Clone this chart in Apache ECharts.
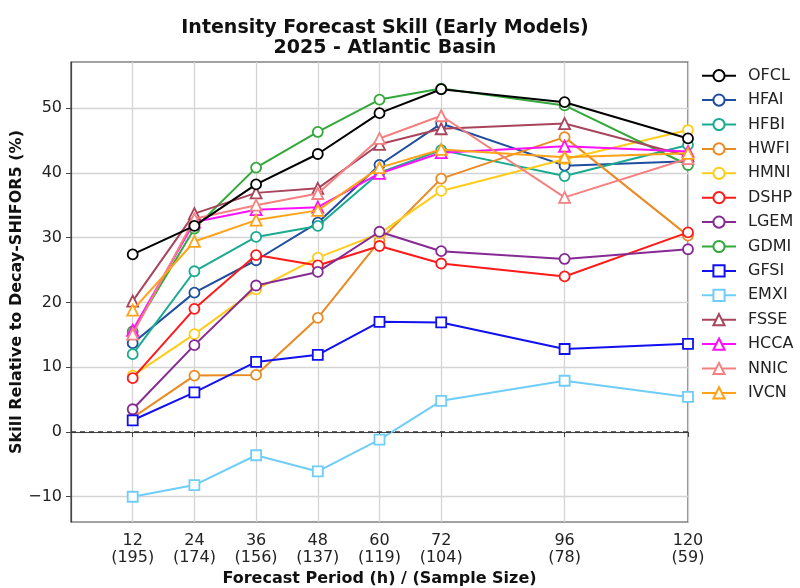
<!DOCTYPE html>
<html>
<head>
<meta charset="utf-8">
<script src="https://cdn.jsdelivr.net/npm/echarts@6/dist/echarts.min.js"></script>
<style>
  html, body { margin: 0; padding: 0; background: #fff; }
  #chart { width: 800px; height: 588px; }
</style>
</head>
<body>
<div id="chart"></div>
<script>
const hours = [12, 24, 36, 48, 60, 72, 96, 120]
const samples = [195, 174, 156, 137, 119, 104, 78, 59]
const yTicks = [-10, 0, 10, 20, 30, 40, 50]

const models = ['OFCL', 'HFAI', 'HFBI', 'HWFI', 'HMNI', 'DSHP', 'LGEM', 'GDMI', 'GFSI', 'EMXI', 'FSSE', 'HCCA', 'NNIC', 'IVCN']

const OFCL = [27.4, 31.8, 38.2, 42.9, 49.2, 52.9, 50.9, 45.3]
const HFAI = [13.7, 21.5, 26.5, 32.3, 41.2, 47.6, 41.1, 41.8]
const HFBI = [12.0, 24.8, 30.1, 31.8, 40.0, 43.5, 39.5, 44.3]
const HWFI = [2.2, 8.7, 8.8, 17.6, 29.5, 39.1, 45.5, 30.3]
const HMNI = [8.7, 15.1, 22.0, 26.9, 30.6, 37.2, 42.1, 46.6]
const DSHP = [8.3, 19.0, 27.3, 25.7, 28.7, 26.0, 24.0, 30.8]
const LGEM = [3.5, 13.4, 22.6, 24.7, 30.9, 27.9, 26.7, 28.2]
const GDMI = [15.5, 31.4, 40.8, 46.3, 51.3, 53.0, 50.4, 41.2]
const GFSI = [1.8, 6.1, 10.8, 11.9, 17.0, 16.9, 12.8, 13.6]
const EMXI = [-10.0, -8.2, -3.6, -6.1, -1.2, 4.8, 7.9, 5.4]
const FSSE = [20.2, 33.7, 36.9, 37.6, 44.4, 46.8, 47.6, 42.6]
const HCCA = [15.7, 32.4, 34.3, 34.7, 39.9, 43.1, 44.1, 43.3]
const NNIC = [15.1, 32.9, 35.0, 36.8, 45.3, 48.8, 36.2, 42.2]
const IVCN = [18.8, 29.4, 32.7, 34.2, 40.8, 43.6, 42.4, 43.0]

const values = { OFCL, HFAI, HFBI, HWFI, HMNI, DSHP, LGEM, GDMI, GFSI, EMXI, FSSE, HCCA, NNIC, IVCN }

// line colour and marker per model
const styles = {
    OFCL: ['#000000', 'circle'],
    HFAI: ['#1f4e9e', 'circle'],
    HFBI: ['#1aab8f', 'circle'],
    HWFI: ['#ea8a22', 'circle'],
    HMNI: ['#ffcc1a', 'circle'],
    DSHP: ['#ff1a1a', 'circle'],
    LGEM: ['#862a94', 'circle'],
    GDMI: ['#33a83a', 'circle'],
    GFSI: ['#1010f0', 'rect'],
    EMXI: ['#6fcdf8', 'rect'],
    FSSE: ['#a8445c', 'triangle'],
    HCCA: ['#ff10ff', 'triangle'],
    NNIC: ['#f58080', 'triangle'],
    IVCN: ['#ffa216', 'triangle'],
}

const font = 'DejaVu Sans'
const chart = echarts.init(document.getElementById('chart'), null, { renderer: 'canvas' })

const series = models.map((name, i) => {
    const [color, symbol] = styles[name]
    const s = {
        name: name,
        type: 'line',
        data: hours.map((h, k) => [h, values[name][k]]),
        symbol: symbol,
        symbolSize: symbol === 'triangle' ? 11 : 10,
        z: name === 'OFCL' ? 5 : 2 + i * 0.01,
        lineStyle: { color: color, width: 2 },
        itemStyle: { color: '#fff', borderColor: color, borderWidth: 1.8 },
        emphasis: { disabled: true },
    }
    if (i === 0) {
        // zero reference line
        s.markLine = {
            silent: true,
            symbol: 'none',
            label: { show: false },
            lineStyle: { color: '#333', type: [5, 4], width: 1.5 },
            data: [{ yAxis: 0 }],
        }
    }
    return s
})

chart.setOption({
    animation: false,
    title: {
        text: 'Intensity Forecast Skill (Early Models)\n2025 - Atlantic Basin',
        left: 380,
        top: 13,
        textAlign: 'center',
        textStyle: { fontFamily: font, fontSize: 19, fontWeight: 'bold', color: '#111', lineHeight: 20 },
    },
    legend: {
        orient: 'vertical',
        left: 701,
        top: 67.7,
        padding: 0,
        itemWidth: 34,
        itemHeight: 14,
        itemGap: 8.4,
        data: models,
        textStyle: { fontFamily: font, fontSize: 16, color: '#222', lineHeight: 14, padding: [0, 0, 0, 7] },
    },
    grid: {
        left: 71, right: 112, top: 62, bottom: 66,
        outerBoundsMode: 'none',
        containLabel: false,
        show: true, borderColor: '#444', borderWidth: 1.2,
    },
    xAxis: {
        type: 'value',
        min: 0,
        max: 120,
        name: 'Forecast Period (h) / (Sample Size)',
        nameLocation: 'middle',
        nameGap: 46,
        nameTextStyle: { fontFamily: font, fontSize: 16, fontWeight: 'bold', color: '#111' },
        axisLine: { show: true, lineStyle: { color: '#444', width: 1.2 } },
        axisTick: { show: true, length: 5, customValues: hours, lineStyle: { color: '#444' } },
        axisLabel: {
            customValues: hours,
            fontFamily: font, fontSize: 16, color: '#222', lineHeight: 17, margin: 10,
            formatter: (v) => v + '\n(' + samples[hours.indexOf(v)] + ')',
        },
        splitLine: { show: true, lineStyle: { color: '#d4d4d4', width: 1.3 } },
    },
    yAxis: {
        type: 'value',
        min: -13.9,
        max: 57.1,
        name: 'Skill Relative to Decay-SHIFOR5 (%)',
        nameLocation: 'middle',
        nameGap: 46,
        nameMoveOverlap: false,
        nameTextStyle: { fontFamily: font, fontSize: 16, fontWeight: 'bold', color: '#111' },
        axisLine: { show: true, lineStyle: { color: '#444', width: 1.2 } },
        axisTick: { show: true, length: 5, customValues: yTicks, lineStyle: { color: '#444' } },
        axisLabel: {
            customValues: yTicks, fontFamily: font, fontSize: 16, color: '#222', margin: 9,
            formatter: (v) => String(v).replace('-', '\u2212'),
        },
        splitLine: { show: true, lineStyle: { color: '#d4d4d4', width: 1.3 } },
    },
    series: series,
})
</script>
</body>
</html>
